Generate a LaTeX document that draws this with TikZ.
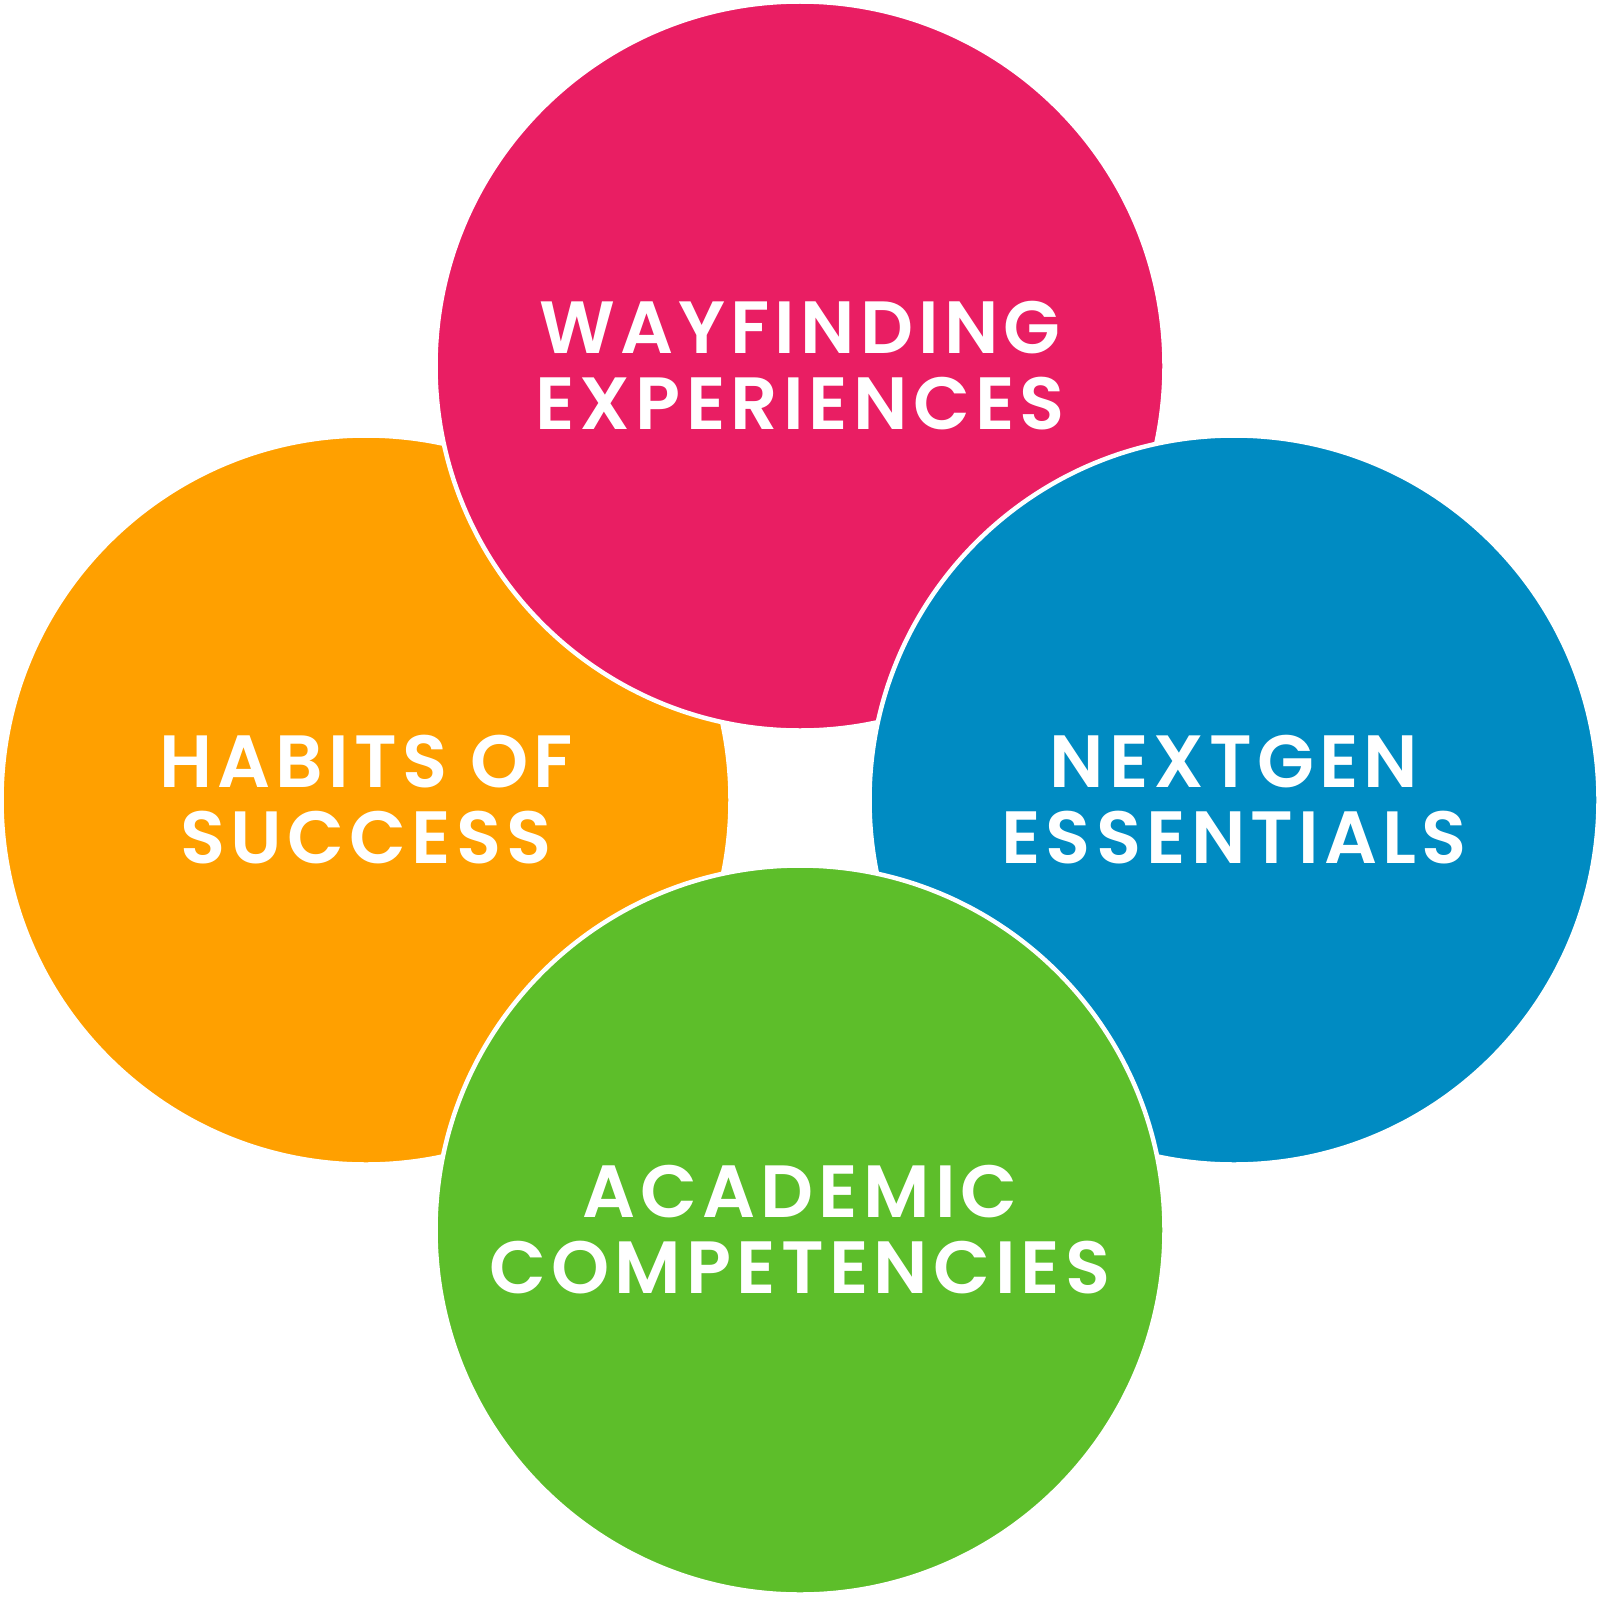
\documentclass[tikz,border=0pt]{standalone}
\usepackage{fontspec}
\newfontfamily\labfont{Poppins SemiBold}[LetterSpace=7]
\definecolor{cpink}{HTML}{E91E63}
\definecolor{corange}{HTML}{FFA000}
\definecolor{cblue}{HTML}{008BC2}
\definecolor{cgreen}{HTML}{5DBE2A}
\begin{document}
\begin{tikzpicture}[x=0.5pt,y=-0.5pt]
\tikzset{
  petal/.style={circle, minimum size=364.5pt, inner sep=0pt, outer sep=0pt,
    draw=white, line width=2.25pt, text=white, align=center,
    font=\labfont\fontsize{37}{38}\selectfont}
}
\useasboundingbox (0,0) rectangle (1600,1600);
\node[petal, fill=corange] (habits) at (366,800) {HABITS OF\\SUCCESS};
\node[petal, fill=cpink] (way) at (800,366) {WAYFINDING\\EXPERIENCES};
\node[petal, fill=cblue] (next) at (1234,800) {NEXTGEN\\ESSENTIALS};
\node[petal, fill=cgreen] (acad) at (800,1230) {ACADEMIC\\COMPETENCIES};
\end{tikzpicture}
\end{document}
